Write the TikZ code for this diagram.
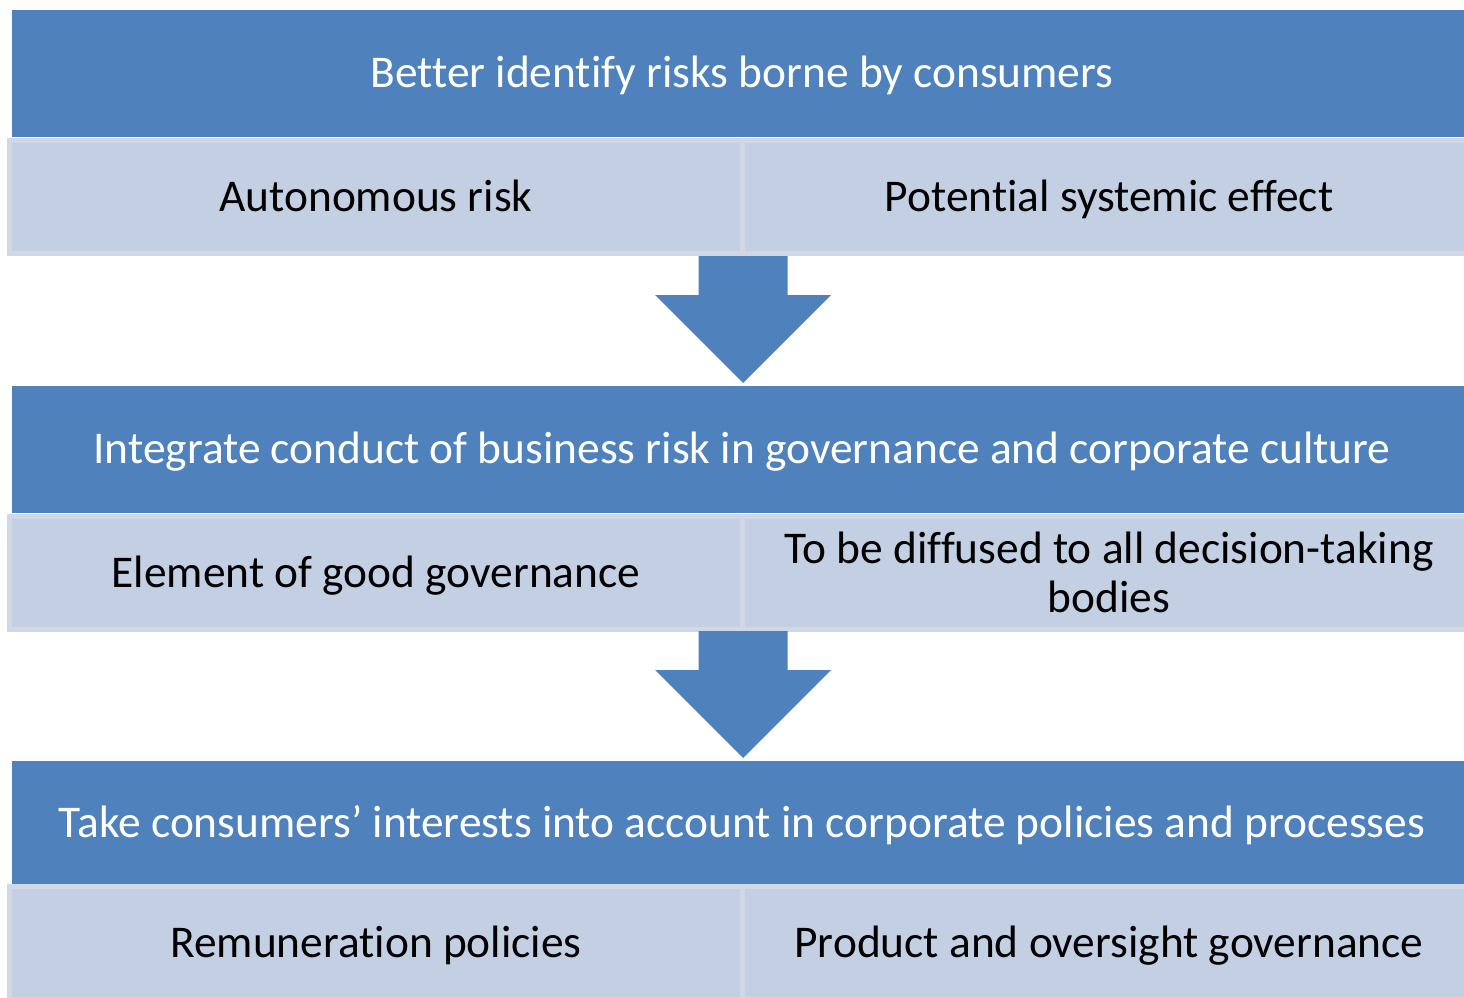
\documentclass[tikz,border=0pt]{standalone}
\usepackage{fontspec}
\setmainfont{Carlito}[Ligatures={NoCommon}]
\definecolor{hdrblue}{RGB}{79,129,189}
\definecolor{lightfill}{RGB}{195,207,226}
\definecolor{lightedge}{RGB}{208,216,231}
\tikzset{
  oneline/.style={text height=38pt, text depth=9pt},
  header/.style={fill=hdrblue, draw=none, inner sep=0pt, minimum width=1460pt, minimum height=127pt,
    text=white, font=\fontsize{45.4}{49}\selectfont, oneline},
  subbox/.style={fill=lightfill, draw=lightedge, line width=5pt, inner sep=0pt, minimum width=733pt,
    minimum height=113pt, text=black, align=center, font=\fontsize{45.4}{49}\selectfont},
  downarrow/.style={fill=hdrblue, draw=none}
}
\begin{document}
\begin{tikzpicture}[x=1pt,y=-1pt]
\useasboundingbox (0,0) rectangle (1464,998);
\clip (0,0) rectangle (1464,998);
% row 1
\node[header] (h1) at (742,73.5) {Better identify risks borne by consumers};
\node[subbox, oneline] (l1) at (376,197) {Autonomous risk};
\node[subbox, oneline] (r1) at (1109,197) {Potential systemic effect};
% arrow 1
\coordinate (a1) at (743,256);
\fill[downarrow] (a1) ++(-44.5,0) -- ++(0,39) -- ++(-43.5,0) -- (743,383) -- (831,295) -- ++(-43.5,0) -- ++(0,-39) -- cycle;
% row 2
\node[header] (h2) at (742,449) {Integrate conduct of business risk in governance and corporate culture};
\node[subbox, oneline] (l2) at (376,572.5) {Element of good governance};
\node[subbox] (r2) at (1109,572.5) {To be diffused to all decision-taking\\bodies};
% arrow 2
\coordinate (a2) at (743,631);
\fill[downarrow] (a2) ++(-44.5,0) -- ++(0,39) -- ++(-43.5,0) -- (743,758) -- (831,670) -- ++(-43.5,0) -- ++(0,-39) -- cycle;
% row 3
\node[header, minimum height=123pt] (h3) at (742,822.5) {Take consumers’ interests into account in corporate policies and processes};
\node[subbox, oneline] (l3) at (376,942.5) {Remuneration policies};
\node[subbox, oneline] (r3) at (1109,942.5) {Product and oversight governance};
\end{tikzpicture}
\end{document}
